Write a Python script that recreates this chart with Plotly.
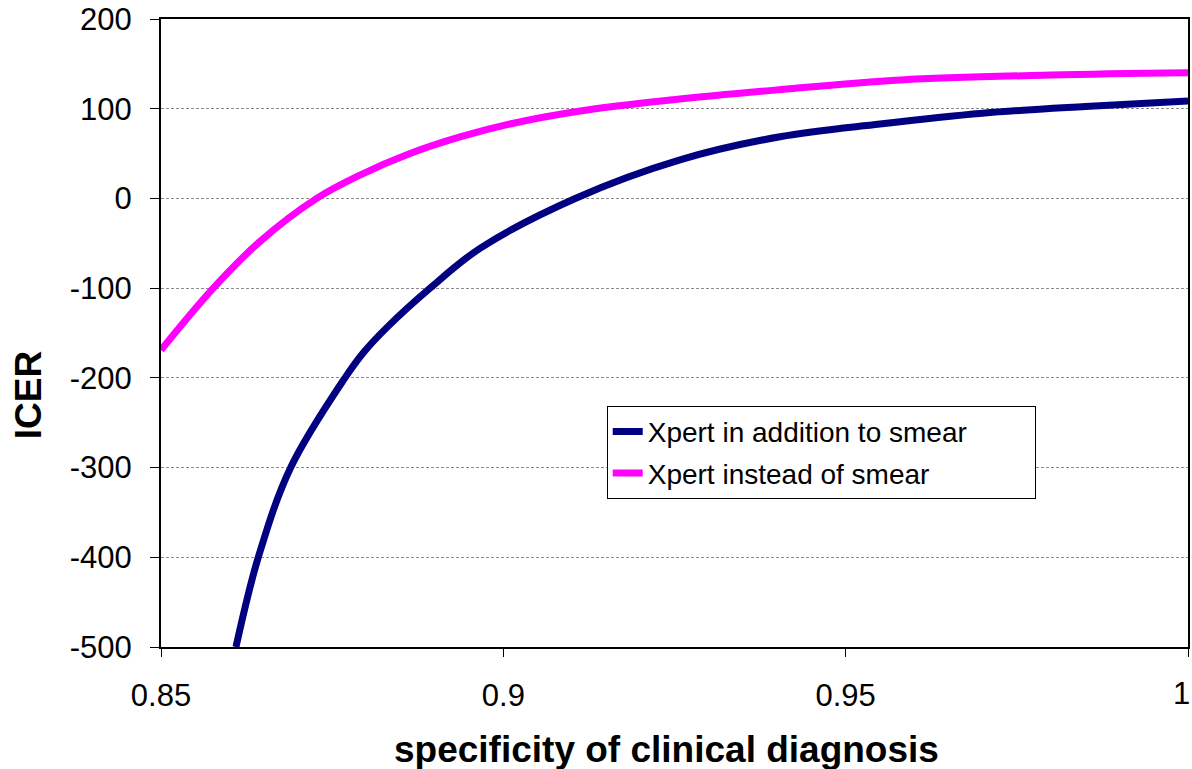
import plotly.graph_objects as go

# Data
x_add = [0.86095, 0.86421, 0.86894, 0.87687, 0.87955, 0.88297, 0.8893,
         0.89659, 0.9105, 0.9258, 0.94041, 0.95501, 0.97, 0.985, 1.0]
y_add = [-500, -400, -300, -200, -172, -144, -100,
         -55.6, 0, 43, 68.8, 83, 95, 102.5, 108.6]

x_inst = [0.85, 0.85764, 0.86446, 0.87274, 0.87907, 0.88637, 0.89367, 0.90097,
          0.9112, 0.9248, 0.94, 0.958, 0.98, 1.0]
y_inst = [-169, -100, -48, 0, 26, 50, 68.5, 83,
          97.5, 110, 121, 132, 137.5, 140]

x_ticks = [0.85, 0.9, 0.95, 1.0]
x_tick_labels = ["0.85", "0.9", "0.95", "1"]
y_ticks = [-500, -400, -300, -200, -100, 0, 100, 200]
y_tick_labels = ["-500", "-400", "-300", "-200", "-100", "0", "100", "200"]

font = "Liberation Sans, Arial, sans-serif"
pad = "\u00a0" * 8

fig = go.Figure()
fig.add_trace(go.Scatter(x=x_add, y=y_add, mode="lines", name="Xpert in addition to smear" + pad,
                         legendgroup="a",
                         line=dict(color="#000080", width=7, shape="spline", smoothing=1.0)))
fig.add_trace(go.Scatter(x=x_inst, y=y_inst, mode="lines", name="Xpert instead of smear" + pad,
                         legendgroup="b",
                         line=dict(color="#FF00FF", width=7, shape="spline", smoothing=1.0)))

# last x tick label drawn as an annotation so it stays inside the page edge
axis_ticktext = x_tick_labels[:-1] + [""]

fig.update_layout(
    width=1192, height=769,
    margin=dict(l=161, r=4, t=19, b=122),
    paper_bgcolor="white", plot_bgcolor="white",
    font=dict(family=font, size=28, color="black"),
    showlegend=True,
    legend=dict(x=0.434, y=0.384, xanchor="left", yanchor="top",
                bgcolor="white", bordercolor="black", borderwidth=1,
                font=dict(family=font, size=28, color="black"),
                traceorder="grouped", tracegroupgap=2),
    xaxis=dict(range=[0.85, 1.0], tickvals=x_ticks, ticktext=axis_ticktext,
               showgrid=False, zeroline=False, showline=True, linecolor="black",
               linewidth=2, mirror=True, ticks="outside", ticklen=8, tickcolor="black",
               tickfont=dict(size=31, family=font),
               ticklabelstandoff=12, automargin=False),
    yaxis=dict(range=[-500, 200], tickvals=y_ticks, ticktext=y_tick_labels,
               showgrid=True, gridcolor="#8c8c8c", gridwidth=1, griddash="3px,2px",
               zeroline=False, showline=True, linecolor="black",
               linewidth=2, mirror=True, ticks="outside", ticklen=9, tickcolor="black",
               tickfont=dict(size=31, family=font), ticklabelstandoff=12, automargin=False),
    annotations=[
        dict(text=x_tick_labels[-1], xref="x", yref="paper", x=x_ticks[-1], y=-0.0748,
             xanchor="right", yanchor="middle", xshift=4, showarrow=False,
             font=dict(size=31, family=font, color="black")),
        dict(text="<b>specificity of clinical diagnosis</b>", xref="paper", yref="paper",
             x=0.4923, y=-0.164, xanchor="center", yanchor="middle", showarrow=False,
             font=dict(size=37, family=font, color="black")),
        dict(text="<b>ICER</b>", xref="paper", yref="paper", textangle=-90,
             x=-0.1295, y=0.401, xanchor="center", yanchor="middle", showarrow=False,
             font=dict(size=37, family=font, color="black")),
    ],
)

fig.write_html("out.html")
